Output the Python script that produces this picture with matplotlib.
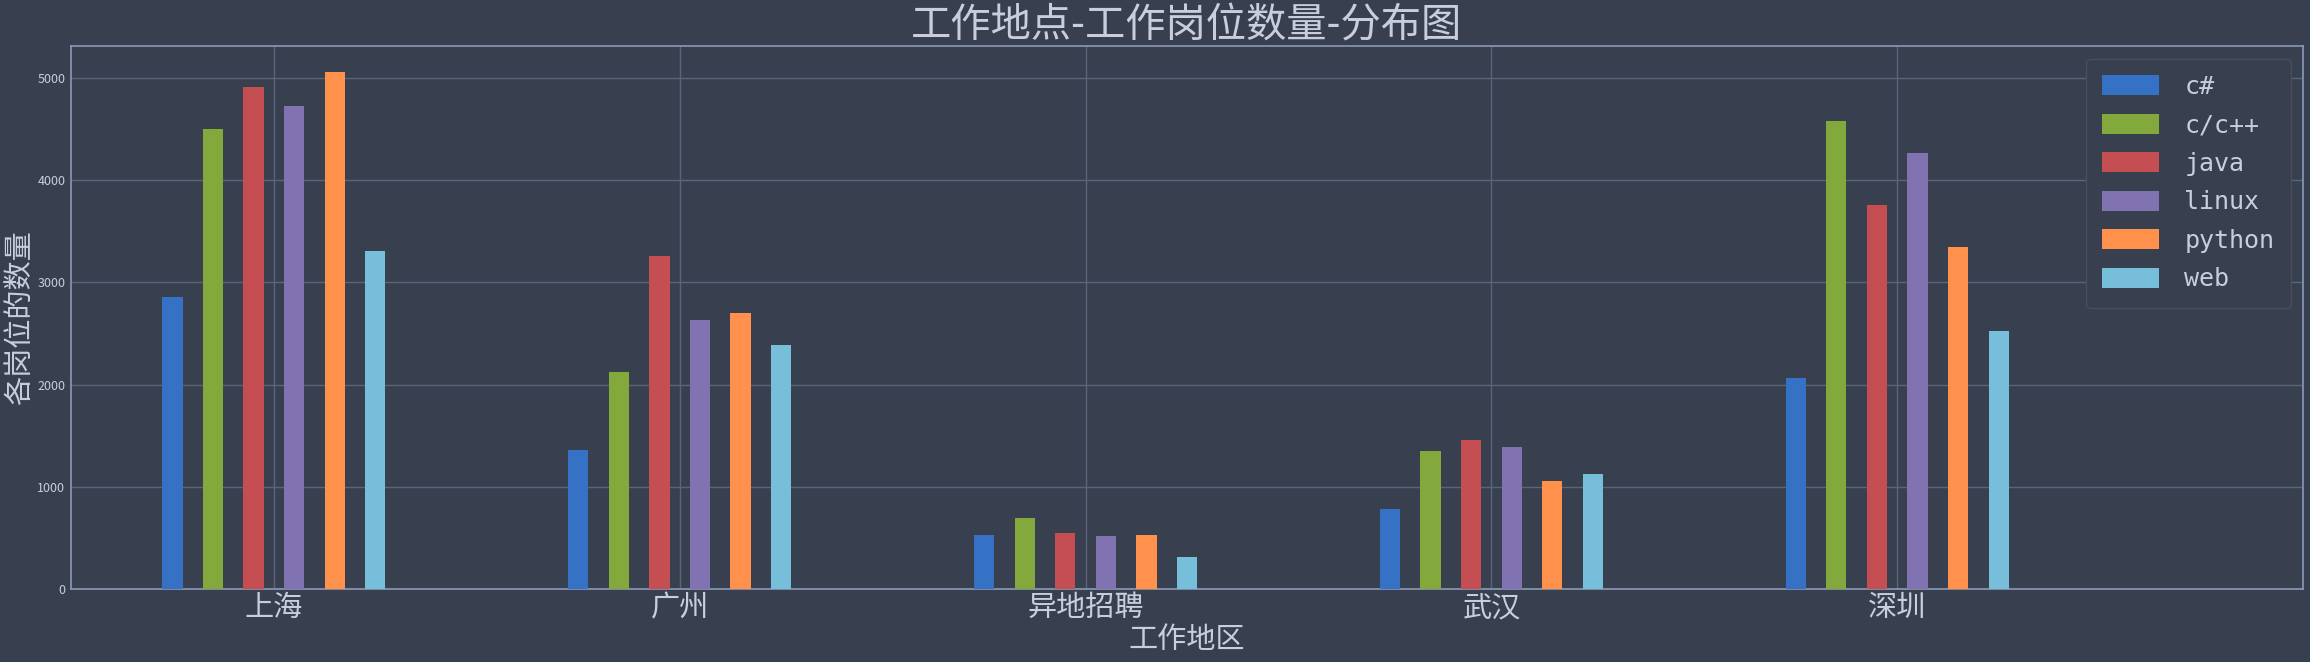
import matplotlib.pyplot as plt
import numpy as np

plt.rcParams['font.family'] = ['Noto Sans CJK SC', 'DejaVu Sans']
plt.rcParams['axes.unicode_minus'] = False

# data
cities = ['上海', '广州', '异地招聘', '武汉', '深圳']
langs = ['c#', 'c/c++', 'java', 'linux', 'python', 'web']
csharp = [2854, 1357, 528, 780, 2062]
cpp = [4504, 2120, 693, 1349, 4582]
java = [4912, 3254, 549, 1456, 3762]
linux = [4727, 2636, 516, 1386, 4269]
python = [5061, 2697, 528, 1056, 3349]
web = [3312, 2392, 313, 1122, 2528]

colors = ['#3572C6', '#83A83B', '#C44E52', '#8172B2', '#FF914D', '#77BEDB']
bg = '#383F4F'
txt = '#C8CEDC'

fig, ax = plt.subplots(figsize=(23.1, 6.62), dpi=100)
fig.patch.set_facecolor(bg)
ax.set_facecolor(bg)
fig.subplots_adjust(left=0.0307, right=0.997, top=0.9305, bottom=0.1103)

x = np.arange(len(cities))
width = 0.05
series = [csharp, cpp, java, linux, python, web]
offsets = [-0.25, -0.15, -0.05, 0.05, 0.15, 0.25]
for vals, off, c, lab in zip(series, offsets, colors, langs):
    ax.bar(x + off, vals, width=width, color=c, label=lab, zorder=3)

ax.set_xlim(-0.5, 5.0)
ax.set_xticks(x)
ax.set_xticklabels(cities, fontsize=21, color=txt)
ax.tick_params(axis='y', labelsize=9, labelcolor=txt, length=0, pad=4)
ax.tick_params(axis='x', length=0, pad=3)

ax.grid(True, color='#58657A', linewidth=1, zorder=0)
for s in ax.spines.values():
    s.set_color('#8A9AB6')
    s.set_linewidth(1.2)

ax.set_title('工作地点-工作岗位数量-分布图', fontsize=29, color=txt, pad=1)
ax.set_xlabel('工作地区', fontsize=21, color=txt, labelpad=1)
ax.set_ylabel('各岗位的数量', fontsize=21, color=txt, labelpad=2)

leg = ax.legend(loc='upper right', prop={'family': 'DejaVu Sans Mono', 'size': 18},
                handlelength=2.3, handleheight=0.85, handletextpad=1.0,
                labelspacing=0.58, borderpad=0.65, facecolor=bg, edgecolor='#46505F',
                framealpha=1.0, fancybox=True)
for t in leg.get_texts():
    t.set_color(txt)

plt.savefig('out.png', facecolor=bg)
